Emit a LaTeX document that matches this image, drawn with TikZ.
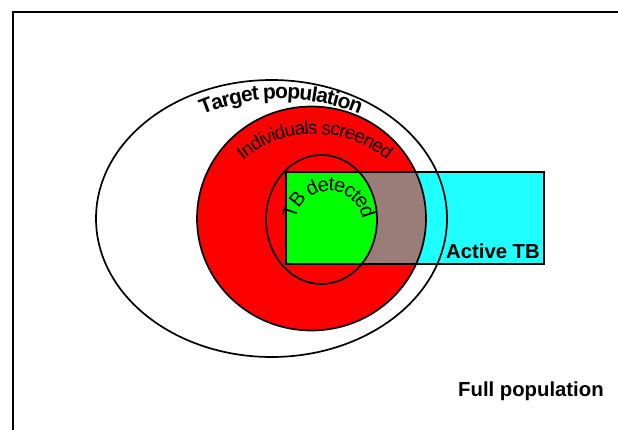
\documentclass[tikz,border=0pt]{standalone}
\usepackage{fontspec}
\setmainfont{Liberation Sans}
\usetikzlibrary{decorations.text}
\definecolor{screenred}{RGB}{255,0,0}
\definecolor{detgreen}{RGB}{0,255,0}
\definecolor{activecyan}{RGB}{30,255,255}
\definecolor{overlapbrown}{RGB}{154,124,120}
\begin{document}
\begin{tikzpicture}[x=1pt,y=1pt,
  outline/.style={draw=black,line width=1.7pt},
  label/.style={inner sep=0pt,font=\fontsize{20.3}{24}\selectfont\bfseries},
  arctext/.style n args={3}{decorate, decoration={text effects along path,
    text={#1}, text align=center,
    text effects/.cd, text along path,
    characters={inner sep=0pt, font=#2},
    character widths={inner sep=0pt, inner xsep=#3, font=#2}}}]
\useasboundingbox (0,0) rectangle (618,429);
\fill[white] (0,0) rectangle (618,429);
% frame
\draw[line width=2pt] (13,-3) -- (13,417) -- (621,417);

% centres of the three ellipses
\coordinate (tc) at (271.5,210.5);
\coordinate (sc) at (311.5,210.5);
\coordinate (dc) at (321.5,209.5);

% fills
\fill[white] (tc) ellipse [x radius=175.5, y radius=138.5];
\fill[screenred] (sc) ellipse [x radius=114.5, y radius=112];
\fill[activecyan] (286,165) rectangle (544,257);
\begin{scope}
  \clip (286,165) rectangle (544,257);
  \fill[overlapbrown] (sc) ellipse [x radius=114.5, y radius=112];
  \fill[detgreen] (dc) ellipse [x radius=55.5, y radius=64.5];
\end{scope}

% outlines
\draw[outline] (tc) ellipse [x radius=175.5, y radius=138.5];
\draw[outline] (sc) ellipse [x radius=114.5, y radius=112];
\draw[outline] (dc) ellipse [x radius=55.5, y radius=64.5];
\draw[outline] (286,165) rectangle (544,257);

% curved labels
\path[arctext={Target population}{\fontsize{21}{24}\selectfont\bfseries}{-0.5pt}]
  (177,302.13) arc[start angle=120, end angle=60, radius=208];
\path[arctext={Individuals screened}{\fontsize{19}{22}\selectfont}{-0.45pt}]
  (229.2,255.0) arc[start angle=140, end angle=40, radius=112];
\path[arctext={TB detected}{\fontsize{20}{23}\selectfont}{-0.6pt}]
  (295,204) arc[start angle=180, end angle=0, radius=34];

% straight labels
\node[label, anchor=base east] (active) at (540,171) {Active TB};
\node[label, anchor=base west] (full) at (458,33) {Full population};
\end{tikzpicture}
\end{document}
